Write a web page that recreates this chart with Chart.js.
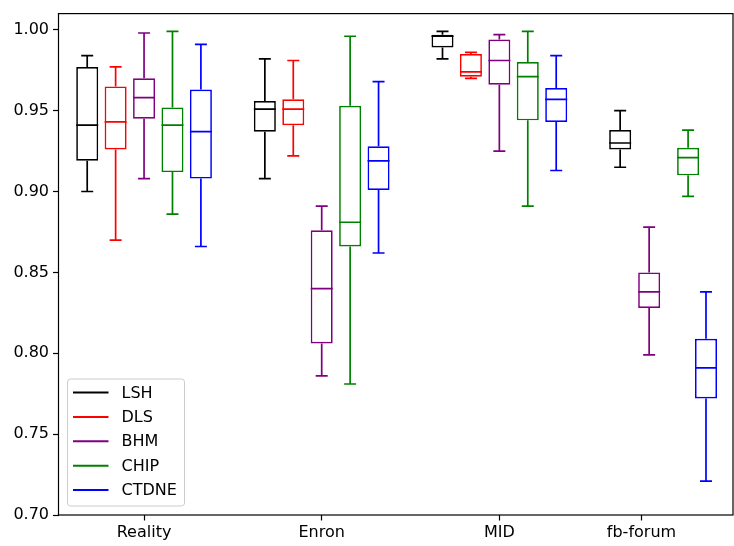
<!DOCTYPE html>
<html>
<head>
<meta charset="utf-8">
<script src="https://cdn.jsdelivr.net/npm/chart.js@4.4.1/dist/chart.umd.min.js"></script>
<style>
  html, body { margin: 0; padding: 0; background: #fff; }
  #wrap { width: 734px; height: 546px; }
</style>
</head>
<body>
<div id="wrap"><canvas id="boxChart"></canvas></div>
<script>
// categories and tick positions on the x axis
const categories = ['Reality', 'Enron', 'MID', 'fb-forum'];
const categoryTicks = [2, 8.25, 14.5, 19.5];
const yTicks = [0.70, 0.75, 0.80, 0.85, 0.90, 0.95, 1.00];

const methods = ['LSH', 'DLS', 'BHM', 'CHIP', 'CTDNE'];

// five-number summaries per category: [low whisker, q1, median, q3, high whisker]
const LSH = [[0.900, 0.919, 0.941, 0.977, 0.984], [0.908, 0.937, 0.951, 0.956, 0.982],
             [0.982, 0.989, 0.996, 0.997, 0.999], [0.915, 0.926, 0.930, 0.938, 0.950]];
const DLS = [[0.870, 0.926, 0.943, 0.965, 0.977], [0.922, 0.941, 0.951, 0.957, 0.981],
             [0.970, 0.971, 0.974, 0.985, 0.986], null];
const BHM = [[0.908, 0.945, 0.958, 0.970, 0.998], [0.786, 0.806, 0.840, 0.876, 0.891],
             [0.925, 0.966, 0.981, 0.994, 0.997], [0.799, 0.828, 0.838, 0.850, 0.878]];
const CHIP = [[0.886, 0.912, 0.941, 0.952, 0.999], [0.781, 0.866, 0.881, 0.953, 0.996],
              [0.891, 0.944, 0.971, 0.980, 0.999], [0.897, 0.910, 0.921, 0.927, 0.938]];
const CTDNE = [[0.866, 0.908, 0.937, 0.963, 0.991], [0.862, 0.901, 0.919, 0.928, 0.968],
               [0.913, 0.943, 0.957, 0.964, 0.984], [0.721, 0.772, 0.791, 0.809, 0.838]];

// box positions along the x axis
const posLSH = [0, 6.25, 12.5, 18.75];
const posDLS = [1, 7.25, 13.5, null];
const posBHM = [2, 8.25, 14.5, 19.77];
const posCHIP = [3, 9.25, 15.5, 21.14];
const posCTDNE = [4, 10.25, 16.5, 21.77];

const summaries = [LSH, DLS, BHM, CHIP, CTDNE];
const positions = [posLSH, posDLS, posBHM, posCHIP, posCTDNE];
const colors = ['#000000', '#ff0000', '#800080', '#008000', '#0000ff'];

const FONT = { family: 'DejaVu Sans', size: 16 };
const LW = 1.7;

const datasets = methods.map((m, i) => {
  const pts = [];
  summaries[i].forEach((s, j) => {
    if (s) pts.push({ x: positions[i][j], y: [s[1], s[3]], stats: s });
  });
  return {
    label: m,
    data: pts,
    backgroundColor: '#ffffff',
    borderColor: colors[i],
    borderWidth: LW,
    borderSkipped: false,
    inflateAmount: 0,
    barThickness: 22,
    grouped: false
  };
});

// whiskers, caps and medians drawn on top of the boxes
const whiskerPlugin = {
  id: 'whiskers',
  afterDatasetsDraw(chart) {
    const ctx = chart.ctx;
    const yS = chart.scales.y;
    chart.data.datasets.forEach((ds, di) => {
      const meta = chart.getDatasetMeta(di);
      ds.data.forEach((p, k) => {
        const bar = meta.data[k];
        const x = bar.x;
        const half = bar.width / 2;
        const cap = half / 2 + 0.5;
        const [lo, q1, med, q3, hi] = p.stats.map(v => yS.getPixelForValue(v));
        ctx.save();
        ctx.strokeStyle = ds.borderColor;
        ctx.lineWidth = LW;
        ctx.beginPath();
        ctx.moveTo(x, q1); ctx.lineTo(x, lo);
        ctx.moveTo(x - cap, lo); ctx.lineTo(x + cap, lo);
        ctx.moveTo(x, q3); ctx.lineTo(x, hi);
        ctx.moveTo(x - cap, hi); ctx.lineTo(x + cap, hi);
        ctx.moveTo(x - half, med); ctx.lineTo(x + half, med);
        ctx.stroke();
        ctx.restore();
      });
    });
  },
  afterDraw(chart) {
    const ctx = chart.ctx;
    const a = chart.chartArea;
    ctx.save();
    ctx.strokeStyle = '#000';
    ctx.lineWidth = 1.2;
    ctx.strokeRect(a.left, a.top, a.right - a.left, a.bottom - a.top);

    // legend box in the lower left corner
    const lx = a.left + 9, ly = a.bottom - 136, lw = 117, lh = 127;
    ctx.beginPath();
    ctx.roundRect(lx, ly, lw, lh, 3);
    ctx.fillStyle = 'rgba(255,255,255,0.8)';
    ctx.fill();
    ctx.strokeStyle = '#cccccc';
    ctx.lineWidth = 1;
    ctx.stroke();
    ctx.font = FONT.size + 'px ' + FONT.family;
    ctx.textBaseline = 'middle';
    ctx.fillStyle = '#000';
    methods.forEach((m, i) => {
      const y = ly + 13.5 + i * 24.4;
      ctx.beginPath();
      ctx.strokeStyle = colors[i];
      ctx.lineWidth = 2;
      ctx.moveTo(lx + 5.5, y); ctx.lineTo(lx + 41, y);
      ctx.stroke();
      ctx.fillText(m, lx + 54, y + 1);
    });
    ctx.restore();
  }
};

new Chart(document.getElementById('boxChart'), {
  type: 'bar',
  data: { datasets },
  options: {
    responsive: true,
    maintainAspectRatio: false,
    animation: false,
    layout: { padding: { top: 2.5, right: 1, left: 0, bottom: 0 } },
    plugins: { legend: { display: false }, tooltip: { enabled: false } },
    scales: {
      x: {
        type: 'linear',
        offset: false,
        min: -1.01,
        max: 22.72,
        afterBuildTicks: s => { s.ticks = categoryTicks.map(v => ({ value: v })); },
        afterFit: s => { s.height = 31; },
        ticks: {
          autoSkip: false,
          maxRotation: 0,
          padding: 3,
          color: '#000',
          font: FONT,
          callback: (v, i) => categories[i]
        },
        grid: { display: true, offset: false, drawOnChartArea: false, drawTicks: true, tickLength: 5.5, tickColor: '#000', tickWidth: 1.2 },
        border: { display: false }
      },
      y: {
        min: 0.70,
        max: 1.01,
        afterBuildTicks: s => { s.ticks = yTicks.map(v => ({ value: v })); },
        afterFit: s => { s.width = 58.5; },
        ticks: {
          padding: 4,
          color: '#000',
          font: FONT,
          callback: v => v.toFixed(2)
        },
        grid: { display: true, drawOnChartArea: false, drawTicks: true, tickLength: 5.5, tickColor: '#000', tickWidth: 1.2 },
        border: { display: false }
      }
    }
  },
  plugins: [whiskerPlugin]
});
</script>
</body>
</html>
